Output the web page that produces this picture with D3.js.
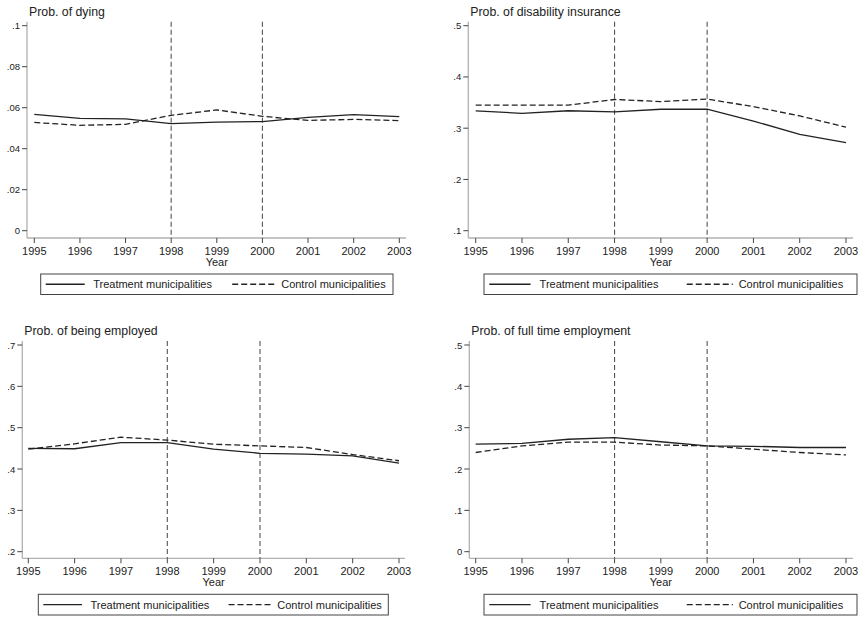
<!DOCTYPE html>
<html>
<head>
<meta charset="utf-8">
<script src="https://cdn.jsdelivr.net/npm/d3@7"></script>
<style>
  body { margin: 0; background: #fff; }
  svg text { font-family: "Liberation Sans", Arial, sans-serif; fill: #222; }
</style>
</head>
<body>
<svg id="chart" width="863" height="618"></svg>
<script>
const years = [1995, 1996, 1997, 1998, 1999, 2000, 2001, 2002, 2003];
const reformYears = [1998, 2000];
const seriesNames = ['Treatment municipalities', 'Control municipalities'];

const titles = ['Prob. of dying', 'Prob. of disability insurance', 'Prob. of being employed', 'Prob. of full time employment'];

const dyingTicks = [0, .02, .04, .06, .08, .1];
const disabilityTicks = [.1, .2, .3, .4, .5];
const employedTicks = [.2, .3, .4, .5, .6, .7];
const fulltimeTicks = [0, .1, .2, .3, .4, .5];

const dyingTreat = [.0567, .0548, .0545, .0522, .0530, .0532, .0553, .0566, .0556];
const dyingCtrl = [.0528, .0514, .0519, .0563, .0589, .0558, .0538, .0543, .0537];
const disabilityTreat = [.334, .329, .334, .332, .337, .337, .314, .288, .272];
const disabilityCtrl = [.345, .345, .345, .356, .352, .357, .342, .324, .302];
const employedTreat = [.450, .449, .464, .464, .448, .438, .436, .432, .414];
const employedCtrl = [.448, .461, .477, .470, .460, .456, .452, .435, .420];
const fulltimeTreat = [.260, .262, .272, .276, .266, .256, .255, .252, .252];
const fulltimeCtrl = [.240, .256, .265, .265, .258, .256, .248, .240, .234];

// layout of each panel (pixels)
const layout = [
  {ax: 27, x0: 34.3, x1: 399.3, xEnd: 406, yTop: 25.7, yBot: 230.7, axY: 238, lx0: 40.7, lx1: 393, ly0: 274, ly1: 294.5},
  {ax: 468.3, x0: 475.7, x1: 846, xEnd: 853, yTop: 25.7, yBot: 230.7, axY: 238, lx0: 484, lx1: 857, ly0: 274, ly1: 294.5},
  {ax: 22.3, x0: 28.3, x1: 399, xEnd: 405, yTop: 345, yBot: 551.7, axY: 558.3, lx0: 38.3, lx1: 388.3, ly0: 594.3, ly1: 615},
  {ax: 469.3, x0: 475.7, x1: 846, xEnd: 853, yTop: 345, yBot: 551.7, axY: 558.3, lx0: 484, lx1: 857, ly0: 594.3, ly1: 615}
];

const panels = [
  {title: titles[0], ticks: dyingTicks, series: [dyingTreat, dyingCtrl]},
  {title: titles[1], ticks: disabilityTicks, series: [disabilityTreat, disabilityCtrl]},
  {title: titles[2], ticks: employedTicks, series: [employedTreat, employedCtrl]},
  {title: titles[3], ticks: fulltimeTicks, series: [fulltimeTreat, fulltimeCtrl]}
];

const dashes = [null, '6,3'];
const fmt = d => d === 0 ? '0' : d3.format('.2~f')(d).replace(/^0/, '');

const svg = d3.select('#chart');

panels.forEach((p, i) => {
  const L = layout[i];
  const g = svg.append('g');
  const x = d3.scaleLinear().domain(d3.extent(years)).range([L.x0, L.x1]);
  const y = d3.scaleLinear().domain(d3.extent(p.ticks)).range([L.yBot, L.yTop]);

  // title
  g.append('text')
    .attr('x', L.ax + 2).attr('y', L.yTop - 10)
    .attr('font-size', 12.3)
    .text(p.title);

  // y axis
  g.append('line')
    .attr('x1', L.ax).attr('x2', L.ax)
    .attr('y1', L.yTop - 4).attr('y2', L.axY)
    .attr('stroke', '#b0b0b0').attr('stroke-width', 1.3);
  p.ticks.forEach(t => {
    g.append('line')
      .attr('x1', L.ax - 5).attr('x2', L.ax)
      .attr('y1', y(t)).attr('y2', y(t))
      .attr('stroke', '#444').attr('stroke-width', 1);
    g.append('text')
      .attr('x', L.ax - 7).attr('y', y(t) + 3.5)
      .attr('text-anchor', 'end')
      .attr('font-size', 9.5)
      .text(fmt(t));
  });

  // x axis
  g.append('line')
    .attr('x1', L.ax).attr('x2', L.xEnd)
    .attr('y1', L.axY).attr('y2', L.axY)
    .attr('stroke', '#b0b0b0').attr('stroke-width', 1.3);
  years.forEach(yr => {
    g.append('line')
      .attr('x1', x(yr)).attr('x2', x(yr))
      .attr('y1', L.axY).attr('y2', L.axY + 5)
      .attr('stroke', '#444').attr('stroke-width', 1);
    g.append('text')
      .attr('x', x(yr)).attr('y', L.axY + 16.5)
      .attr('text-anchor', 'middle')
      .attr('font-size', 11)
      .text(yr);
  });
  g.append('text')
    .attr('x', (L.x0 + L.x1) / 2).attr('y', L.axY + 27.5)
    .attr('text-anchor', 'middle')
    .attr('font-size', 11)
    .text('Year');

  // reform lines
  reformYears.forEach(yr => {
    g.append('line')
      .attr('x1', x(yr)).attr('x2', x(yr))
      .attr('y1', L.yTop - 4).attr('y2', L.axY)
      .attr('stroke', '#555').attr('stroke-width', 1.1)
      .attr('stroke-dasharray', '5,3');
  });

  // series
  const line = d3.line().x((d, j) => x(years[j])).y(d => y(d));
  p.series.forEach((s, k) => {
    g.append('path')
      .datum(s)
      .attr('d', line)
      .attr('fill', 'none')
      .attr('stroke', '#222')
      .attr('stroke-width', 1.3)
      .attr('stroke-dasharray', dashes[k]);
  });

  // legend
  g.append('rect')
    .attr('x', L.lx0).attr('y', L.ly0)
    .attr('width', L.lx1 - L.lx0).attr('height', L.ly1 - L.ly0)
    .attr('fill', 'none').attr('stroke', '#444').attr('stroke-width', 1);
  const ly = (L.ly0 + L.ly1) / 2;
  const w = L.lx1 - L.lx0;
  [[5, 44], [191.5, 235]].forEach((pos, k) => {
    g.append('line')
      .attr('x1', L.lx0 + pos[0] * w / 352.3).attr('x2', L.lx0 + pos[1] * w / 352.3)
      .attr('y1', ly).attr('y2', ly)
      .attr('stroke', '#222').attr('stroke-width', 1.3)
      .attr('stroke-dasharray', dashes[k]);
  });
  g.append('text')
    .attr('x', L.lx0 + 52.5 * w / 352.3).attr('y', ly + 4)
    .attr('font-size', 11)
    .text(seriesNames[0]);
  g.append('text')
    .attr('x', L.lx0 + 240.5 * w / 352.3).attr('y', ly + 4)
    .attr('font-size', 11)
    .text(seriesNames[1]);
});
</script>
</body>
</html>
